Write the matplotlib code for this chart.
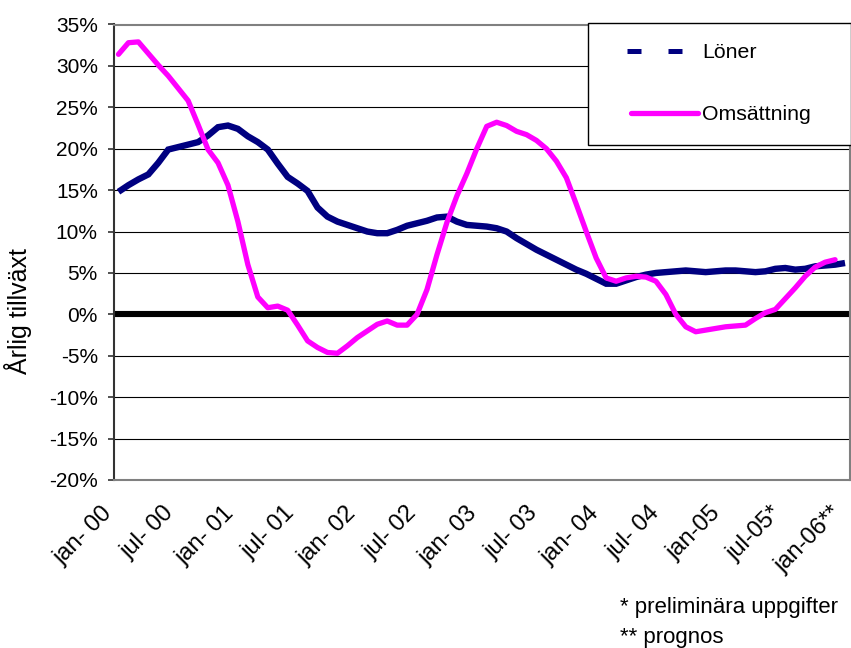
import matplotlib
matplotlib.use("Agg")
import matplotlib.pyplot as plt
import matplotlib.transforms as mtransforms
from matplotlib.lines import Line2D
from matplotlib.patches import Rectangle
import numpy as np

plt.rcParams["font.family"] = ["Liberation Sans", "DejaVu Sans"]

# Annual growth (%), monthly from jan 2000
loner = [14.8, 15.6, 16.3, 16.9, 18.3, 19.9, 20.2, 20.5, 20.8, 21.6,
         22.6, 22.8, 22.4, 21.5, 20.8, 19.9, 18.2, 16.6, 15.8, 14.9,
         12.9, 11.8, 11.2, 10.8, 10.4, 10.0, 9.8, 9.8, 10.2, 10.7,
         11.0, 11.3, 11.7, 11.8, 11.2, 10.8, 10.7, 10.6, 10.4, 10.0,
         9.2, 8.5, 7.8, 7.2, 6.6, 6.0, 5.4, 4.9, 4.3, 3.7,
         3.7, 4.1, 4.5, 4.8, 5.0, 5.1, 5.2, 5.3, 5.2, 5.1,
         5.2, 5.3, 5.3, 5.2, 5.1, 5.2, 5.5, 5.6, 5.4, 5.5,
         5.8, 5.9, 6.0, 6.2]

omsattning = [31.4, 32.8, 32.9, 31.5, 30.1, 28.8, 27.3, 25.8, 22.9, 19.9,
              18.3, 15.6, 11.2, 6.0, 2.1, 0.8, 1.0, 0.5, -1.3, -3.2,
              -4.0, -4.6, -4.7, -3.8, -2.8, -2.0, -1.2, -0.8, -1.3, -1.3,
              0.0, 3.0, 7.2, 11.1, 14.3, 17.0, 20.0, 22.7, 23.2, 22.8,
              22.1, 21.7, 21.0, 20.0, 18.5, 16.5, 13.3, 10.0, 6.8, 4.4,
              4.0, 4.4, 4.6, 4.5, 4.0, 2.4, 0.0, -1.5, -2.1, -1.9,
              -1.7, -1.5, -1.4, -1.3, -0.5, 0.2, 0.6, 1.9, 3.2, 4.6,
              5.7, 6.3, 6.6]

tick_labels = ["jan- 00", "jul- 00", "jan- 01", "jul- 01", "jan- 02", "jul- 02",
               "jan- 03", "jul- 03", "jan- 04", "jul- 04", "jan-05", "jul-05*",
               "jan-06**"]
y_ticks = [-20, -15, -10, -5, 0, 5, 10, 15, 20, 25, 30, 35]

W, H = 851, 648
fig = plt.figure(figsize=(W / 100, H / 100), dpi=100)


def fx(x):
    return x / W


def fy(y):
    return 1 - y / H


left, right, top, bottom = 113.5, 850.0, 24.5, 480.0
ax = fig.add_axes([fx(left), fy(bottom), (right - left) / W, (bottom - top) / H])

x_l = np.arange(len(loner))
x_o = np.arange(len(omsattning))

ax.set_xlim(-0.5, 73.5)
ax.set_ylim(-20, 35)

# gridlines and the heavy zero axis
ax.set_yticks(y_ticks)
ax.set_yticklabels([f"{v}%" for v in y_ticks], fontsize=15)
ax.yaxis.grid(True, color="black", linewidth=0.8)
ax.set_axisbelow(True)
ax.axhline(0, color="black", linewidth=4.4, zorder=2)

ax.plot(x_l, loner, color="#000080", linewidth=4.6, solid_capstyle="butt",
        solid_joinstyle="miter", zorder=3)
ax.plot(x_o, omsattning, color="#FF00FF", linewidth=3.8, solid_capstyle="round",
        solid_joinstyle="round", zorder=4)

ax.set_xticks(np.arange(0, 73, 6))
ax.set_xticklabels(tick_labels, fontsize=17, rotation=45, ha="right", va="top",
                   rotation_mode="anchor")
ax.tick_params(axis="x", length=0, pad=16)
ax.tick_params(axis="y", length=4.3, width=1.2, color="#333333", pad=7)
# category labels sit slightly left of their months and spread a little wider
for k, lab in enumerate(ax.get_xticklabels()):
    dx = (-17 + 1.05 * k) / 100
    lab.set_transform(lab.get_transform()
                      + mtransforms.ScaledTranslation(dx, 0, fig.dpi_scale_trans))

for side in ("top", "right", "bottom"):
    ax.spines[side].set_color("#808080")
    ax.spines[side].set_linewidth(1.5)
ax.spines["left"].set_color("#333333")
ax.spines["left"].set_linewidth(1.5)

# legend box
fig.patches.append(Rectangle((fx(588), fy(145)), (850.5 - 588) / W, (145 - 23) / H,
                             transform=fig.transFigure, facecolor="white",
                             edgecolor="black", linewidth=1.0, zorder=5))
fig.lines.append(Line2D([fx(627), fx(683)], [fy(51), fy(51)], transform=fig.transFigure,
                        color="#000080", linewidth=3.6, linestyle=(0, (2.8, 5.4)),
                        dash_capstyle="butt", zorder=6))
fig.lines.append(Line2D([fx(631), fx(698)], [fy(113), fy(113)], transform=fig.transFigure,
                        color="#FF00FF", linewidth=3.8, solid_capstyle="round", zorder=6))
fig.text(fx(702), fy(53), "Löner", fontsize=15.3, ha="left", va="center", zorder=7)
fig.text(fx(702), fy(115), "Omsättning", fontsize=15.3, ha="left", va="center", zorder=7)

fig.text(fx(18), fy(311), "Årlig tillväxt", fontsize=18, rotation=90,
         ha="center", va="center")
fig.text(fx(620), fy(607), "* preliminära uppgifter", fontsize=16, ha="left", va="center")
fig.text(fx(620), fy(637), "** prognos", fontsize=16, ha="left", va="center")

fig.savefig("out.png", dpi=100)
